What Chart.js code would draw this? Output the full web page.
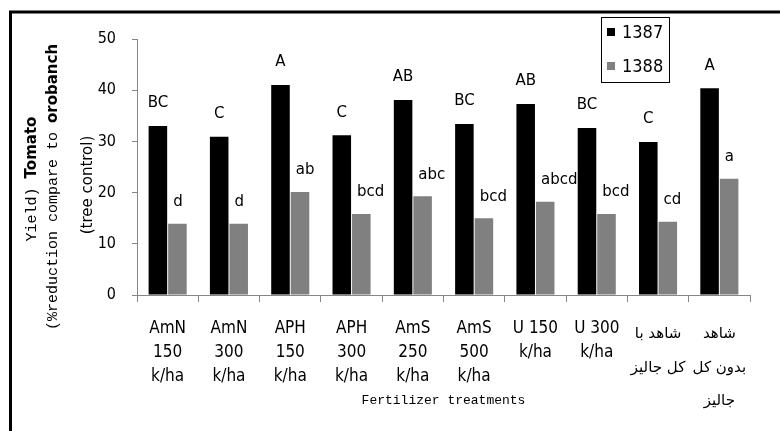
<!DOCTYPE html>
<html>
<head>
<meta charset="utf-8">
<script src="https://cdn.jsdelivr.net/npm/chart.js@4.4.1/dist/chart.umd.min.js"></script>
<style>
  html, body { margin: 0; padding: 0; background: #ffffff; }
  #wrap { width: 780px; height: 431px; position: relative; }
</style>
</head>
<body>
<div id="wrap"><canvas id="c" width="780" height="431"></canvas></div>
<script>
// ---- data ----
const categories = [
  ["AmN", "150", "k/ha"],
  ["AmN", "300", "k/ha"],
  ["APH", "150", "k/ha"],
  ["APH", "300", "k/ha"],
  ["AmS", "250", "k/ha"],
  ["AmS", "500", "k/ha"],
  ["U 150", "k/ha"],
  ["U 300", "k/ha"],
  ["شاهد با", "کل جالیز"],
  ["شاهد", "بدون کل", "جالیز"]
];
const seriesNames = ["1387", "1388"];
const values1387 = [33.0, 30.9, 41.0, 31.2, 38.1, 33.4, 37.3, 32.6, 29.9, 40.4];
const values1388 = [13.9, 13.9, 20.1, 15.8, 19.3, 15.0, 18.2, 15.8, 14.3, 22.7];
const letters1387 = ["BC", "C", "A", "C", "AB", "BC", "AB", "BC", "C", "A"];
const letters1388 = ["d", "d", "ab", "bcd", "abc", "bcd", "abcd", "bcd", "cd", "a"];
const yMin = 0, yMax = 50, yStep = 10;
const xTitle = "Fertilizer treatments";
const yTitleLines = [
  [["Yield) ", "mono"], ["Tomato", "bold"]],
  [["(%reduction compare to ", "mono"], ["orobanch", "bold"]],
  [["(tree control)", "sans"]]
];

// ---- styles ----
const AXIS = "#868686";
const COND = "'DejaVu Sans Condensed', 'DejaVu Sans', sans-serif";

const framePlugin = {
  id: "frame",
  beforeDraw(chart) {
    const ctx = chart.ctx;
    ctx.save();
    ctx.fillStyle = "#ffffff";
    ctx.fillRect(0, 0, chart.width, chart.height);
    ctx.restore();
  },
  afterDraw(chart) {
    const ctx = chart.ctx;
    ctx.save();
    ctx.strokeStyle = "#000";
    ctx.lineWidth = 3;
    ctx.beginPath();
    ctx.moveTo(10.5, chart.height);
    ctx.lineTo(10.5, 12);
    ctx.lineTo(chart.width, 12);
    ctx.stroke();
    ctx.restore();
  }
};

const letterPlugin = {
  id: "letters",
  afterDatasetsDraw(chart) {
    const ctx = chart.ctx;
    const sets = [letters1387, letters1388];
    ctx.save();
    ctx.fillStyle = "#000";
    ctx.font = "15px 'DejaVu Sans', sans-serif";
    ctx.textBaseline = "bottom";
    chart.data.datasets.forEach((ds, di) => {
      const meta = chart.getDatasetMeta(di);
      meta.data.forEach((el, i) => {
        if (di === 0) {
          ctx.textAlign = "center";
          ctx.fillText(sets[di][i], el.x, el.y - 15);
        } else {
          ctx.textAlign = "left";
          ctx.fillText(sets[di][i], el.x - el.width / 2 + 5, el.y - 14);
        }
      });
    });
    ctx.restore();
  }
};

const legendPlugin = {
  id: "boxLegend",
  afterDraw(chart) {
    const ctx = chart.ctx;
    ctx.save();
    ctx.strokeStyle = "#000";
    ctx.lineWidth = 1;
    ctx.strokeRect(601.5, 17.5, 68, 65);
    ctx.font = "18px " + COND;
    ctx.textBaseline = "middle";
    ctx.textAlign = "left";
    chart.data.datasets.forEach((ds, i) => {
      const cy = 32 + i * 34;
      ctx.fillStyle = ds.backgroundColor;
      ctx.fillRect(607, cy - 4, 8, 8);
      ctx.fillStyle = "#000";
      ctx.fillText(ds.label, 622, cy + 1);
    });
    ctx.restore();
  }
};

const yTitlePlugin = {
  id: "yTitle",
  afterDraw(chart) {
    const ctx = chart.ctx;
    const fonts = {
      mono: "15px 'Liberation Mono', 'DejaVu Sans Mono', monospace",
      bold: "bold 15px 'DejaVu Sans', sans-serif",
      sans: "15px 'DejaVu Sans', sans-serif"
    };
    const pos = [[32, 179], [53, 187], [88, 185]];
    yTitleLines.forEach((segs, li) => {
      ctx.save();
      ctx.translate(pos[li][0], pos[li][1]);
      ctx.rotate(-Math.PI / 2);
      ctx.fillStyle = "#000";
      ctx.textBaseline = "middle";
      ctx.textAlign = "left";
      let total = 0;
      segs.forEach(s => { ctx.font = fonts[s[1]]; total += ctx.measureText(s[0]).width; });
      let x = -total / 2;
      segs.forEach(s => {
        ctx.font = fonts[s[1]];
        ctx.fillText(s[0], x, 0);
        x += ctx.measureText(s[0]).width;
      });
      ctx.restore();
    });
  }
};

new Chart(document.getElementById("c"), {
  type: "bar",
  data: {
    labels: categories,
    datasets: [
      { label: seriesNames[0], data: values1387, backgroundColor: "#000000", borderWidth: 0 },
      { label: seriesNames[1], data: values1388, backgroundColor: "#808080", borderWidth: 0 }
    ]
  },
  options: {
    responsive: false,
    animation: false,
    devicePixelRatio: 1,
    categoryPercentage: 0.637,
    barPercentage: 0.95,
    layout: { padding: { top: 39, right: 30, left: 0, bottom: 0 } },
    plugins: {
      legend: { display: false },
      tooltip: { enabled: false }
    },
    scales: {
      x: {
        afterFit(scale) { scale.height = 136; },
        grid: { display: true, drawOnChartArea: false, drawTicks: true, tickLength: 7, color: AXIS, offset: true },
        border: { display: true, color: AXIS, width: 1 },
        ticks: {
          color: "#000",
          padding: 15,
          maxRotation: 0,
          autoSkip: false,
          font: (ctx) => (ctx.index >= 8)
            ? { family: "'DejaVu Sans', sans-serif", size: 15, lineHeight: 2.25 }
            : { family: COND, size: 17, weight: "normal", lineHeight: 1.41 }
        },
        title: {
          display: true,
          text: xTitle,
          color: "#000",
          font: { family: "'Liberation Mono', 'DejaVu Sans Mono', monospace", size: 13, lineHeight: 1.2 },
          padding: { top: 0, bottom: 23 }
        }
      },
      y: {
        min: yMin,
        max: yMax,
        afterFit(scale) { scale.width = 137; },
        grid: { display: true, drawOnChartArea: false, drawTicks: true, tickLength: 5, color: AXIS },
        border: { display: true, color: AXIS, width: 1 },
        ticks: {
          stepSize: yStep,
          color: "#000",
          padding: 16,
          font: { family: COND, size: 16 }
        }
      }
    }
  },
  plugins: [framePlugin, letterPlugin, legendPlugin, yTitlePlugin]
});
</script>
</body>
</html>
